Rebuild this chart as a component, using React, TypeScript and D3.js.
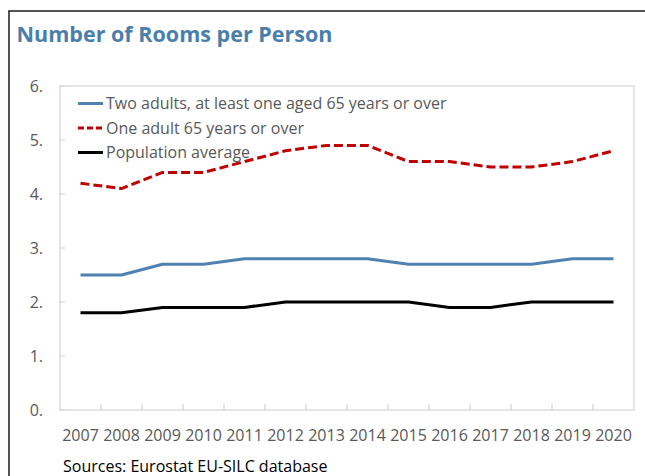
import React from "react";
import * as d3 from "d3";

const years = ["2007","2008","2009","2010","2011","2012","2013","2014","2015","2016","2017","2018","2019","2020"];
const twoAdults = [2.5, 2.5, 2.7, 2.7, 2.8, 2.8, 2.8, 2.8, 2.7, 2.7, 2.7, 2.7, 2.8, 2.8];
const oneAdult = [4.2, 4.1, 4.4, 4.4, 4.6, 4.8, 4.9, 4.9, 4.6, 4.6, 4.5, 4.5, 4.6, 4.8];
const population = [1.8, 1.8, 1.9, 1.9, 1.9, 2.0, 2.0, 2.0, 2.0, 1.9, 1.9, 2.0, 2.0, 2.0];
const yTicks = [0, 1, 2, 3, 4, 5, 6];

const seriesNames = [
  "Two adults, at least one aged 65 years or over",
  "One adult 65 years or over",
  "Population average",
];

const W = 645, H = 476;
const FONT = "'Open Sans', 'Noto Sans', sans-serif";
const GRAY = "#595959";
const AXIS = "#d4d4d4";

export default function App() {
  const left = 60, right = 634, top = 86, bottom = 410;
  const x = d3.scaleBand<string>().domain(years).range([left, right]);
  const y = d3.scaleLinear().domain([0, 6]).range([bottom, top]);
  const cx = (yr: string) => (x(yr) as number) + x.bandwidth() / 2;

  const line = d3
    .line<number>()
    .x((_, i) => cx(years[i]))
    .y((v) => y(v))
    .curve(d3.curveLinear);

  const series = [
    { name: seriesNames[0], values: twoAdults, color: "#4f81b3", dash: undefined as string | undefined },
    { name: seriesNames[1], values: oneAdult, color: "#c00000", dash: "9,4" },
    { name: seriesNames[2], values: population, color: "#000000", dash: undefined as string | undefined },
  ];

  return (
    <svg
      width={W}
      height={H}
      style={{ position: "fixed", left: 0, top: 0, background: "#fff" }}
      fontFamily={FONT}
    >
      <rect x={0} y={0} width={W} height={H} fill="#fff" />
      {/* outer frame */}
      <rect x={9} y={11} width={W + 10} height={H + 10} fill="none" stroke="#1a1a1a" strokeWidth={1.5} />
      {/* title */}
      <text x={16.5} y={42} fill="#4a7eab" fontSize={22} fontWeight={700} textLength={316} lengthAdjust="spacingAndGlyphs">
        Number of Rooms per Person
      </text>

      {/* plot frame */}
      <rect x={left} y={top} width={right - left} height={bottom - top} fill="none" stroke={AXIS} strokeWidth={1.2} />

      {/* y ticks and labels */}
      {yTicks.map((t) => (
        <g key={t}>
          <line x1={left} x2={left + 5} y1={y(t)} y2={y(t)} stroke={AXIS} strokeWidth={1.2} />
          <text x={43} y={y(t)} dy="0.35em" textAnchor="end" fill={GRAY} fontSize={16}>
            {t + "."}
          </text>
        </g>
      ))}

      {/* x ticks */}
      {years.slice(1).map((yr) => (
        <line key={yr} x1={x(yr) as number} x2={x(yr) as number} y1={bottom} y2={bottom - 6} stroke={AXIS} strokeWidth={1.2} />
      ))}
      {years.map((yr) => (
        <text key={yr} x={cx(yr)} y={441} textAnchor="middle" fill={GRAY} fontSize={16}>
          {yr}
        </text>
      ))}

      {/* lines */}
      {series.map((s) => (
        <path
          key={s.name}
          d={line(s.values) || ""}
          fill="none"
          stroke={s.color}
          strokeWidth={3}
          strokeDasharray={s.dash}
          strokeLinejoin="round"
        />
      ))}

      {/* legend */}
      {series.map((s, i) => {
        const ly = 103.5 + i * 24.5;
        return (
          <g key={s.name}>
            <line x1={78} x2={103} y1={ly} y2={ly} stroke={s.color} strokeWidth={3} strokeDasharray={s.dash ? "6,3" : undefined} />
            <text x={106} y={ly} dy="0.35em" fill={GRAY} fontSize={16}>
              {s.name}
            </text>
          </g>
        );
      })}

      {/* source */}
      <text x={63} y={472} fill="#000" fontSize={16}>
        Sources: Eurostat EU-SILC database
      </text>
    </svg>
  );
}
